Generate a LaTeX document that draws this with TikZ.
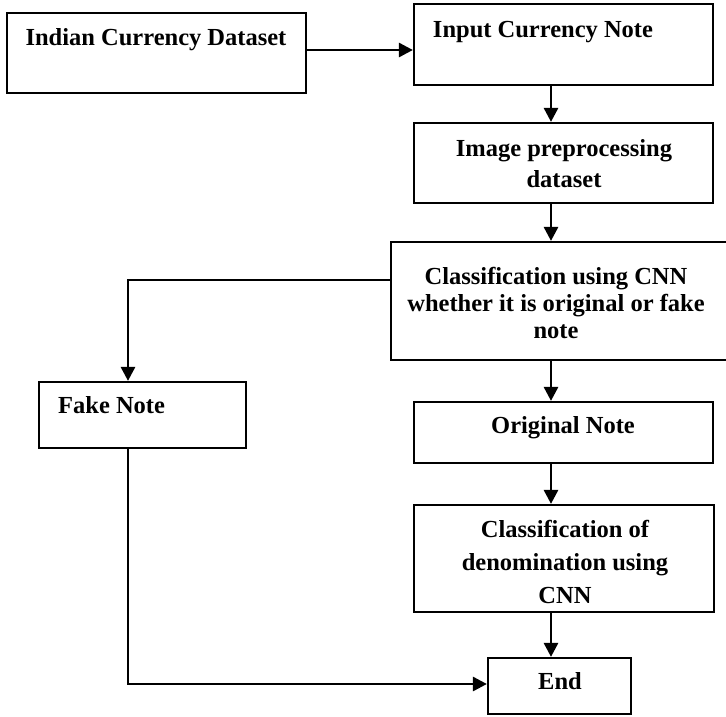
\documentclass[tikz,border=0pt]{standalone}
\usepackage{fontspec}
\setmainfont{Liberation Serif}
\usetikzlibrary{arrows.meta}
\begin{document}
\begin{tikzpicture}[x=1pt,y=-1pt,
  box/.style={draw=black,line width=2.2pt,fill=white,inner sep=0pt},
  lbl/.style={font=\fontsize{24.5}{29}\selectfont\bfseries,inner sep=0pt,anchor=base,align=center},
  arr/.style={line width=2.8pt,-{Triangle[length=14pt,width=14pt]}},
  wire/.style={line width=1.9pt}]
\clip (0,0) rectangle (726,716);
\fill[white] (0,0) rectangle (726,716);

% boxes, placed by their centres
\node[box,minimum width=299pt,minimum height=80pt] (b1) at (156.5,53) {};
\node[box,minimum width=299pt,minimum height=81pt] (b2) at (563.5,44.5) {};
\node[box,minimum width=299pt,minimum height=80pt] (b3) at (563.5,163) {};
\node[box,minimum width=339pt,minimum height=118pt] (b4) at (560.5,301) {};
\node[box,minimum width=207pt,minimum height=66pt] (b5) at (142.5,415) {};
\node[box,minimum width=299pt,minimum height=61pt] (b6) at (563.5,432.5) {};
\node[box,minimum width=300pt,minimum height=107pt] (b7) at (564,558.5) {};
\node[box,minimum width=143pt,minimum height=56pt] (b8) at (559.5,686) {};

% labels (multi-line ones are anchored on their last baseline)
\node[lbl] (t1) at (156,45) {Indian Currency Dataset};
\node[lbl] (t2) at (543,37) {Input Currency Note};
\node[lbl,font=\fontsize{24.5}{31}\selectfont\bfseries] (t3) at (564,187) {Image preprocessing\\dataset};
\node[lbl,font=\fontsize{24.5}{27}\selectfont\bfseries] (t4) at (556,338) {Classification using CNN\\whether it is original or fake\\note};
\node[lbl,anchor=base west] (t5) at (58,413) {Fake Note};
\node[lbl] (t6) at (563,433) {Original Note};
\node[lbl,font=\fontsize{24.5}{33}\selectfont\bfseries] (t7) at (565,603) {Classification of\\denomination using\\CNN};
\node[lbl] (t8) at (560,689) {End};

% connector guides
\coordinate (ax) at (551,0);
\coordinate (fx) at (128,0);
\coordinate (h1) at (0,50);
\coordinate (h4) at (0,280);
\coordinate (h8) at (0,684);
\coordinate (bend) at (fx |- h4);

% connectors
\draw[arr] (b1.east |- h1) -- (b2.west |- h1);
\draw[arr] (b2.south -| ax) -- (b3.north -| ax);
\draw[arr] (b3.south -| ax) -- (b4.north -| ax);
\draw[wire] (b4.west |- h4) -- ([xshift=-1.4pt]bend);
\draw[arr] (bend) -- (b5.north -| fx);
\draw[arr] (b4.south -| ax) -- (b6.north -| ax);
\draw[arr] (b6.south -| ax) -- (b7.north -| ax);
\draw[arr] (b7.south -| ax) -- (b8.north -| ax);
\draw[arr] (b5.south -| fx) -- (fx |- h8) -- (b8.west |- h8);
\end{tikzpicture}
\end{document}
